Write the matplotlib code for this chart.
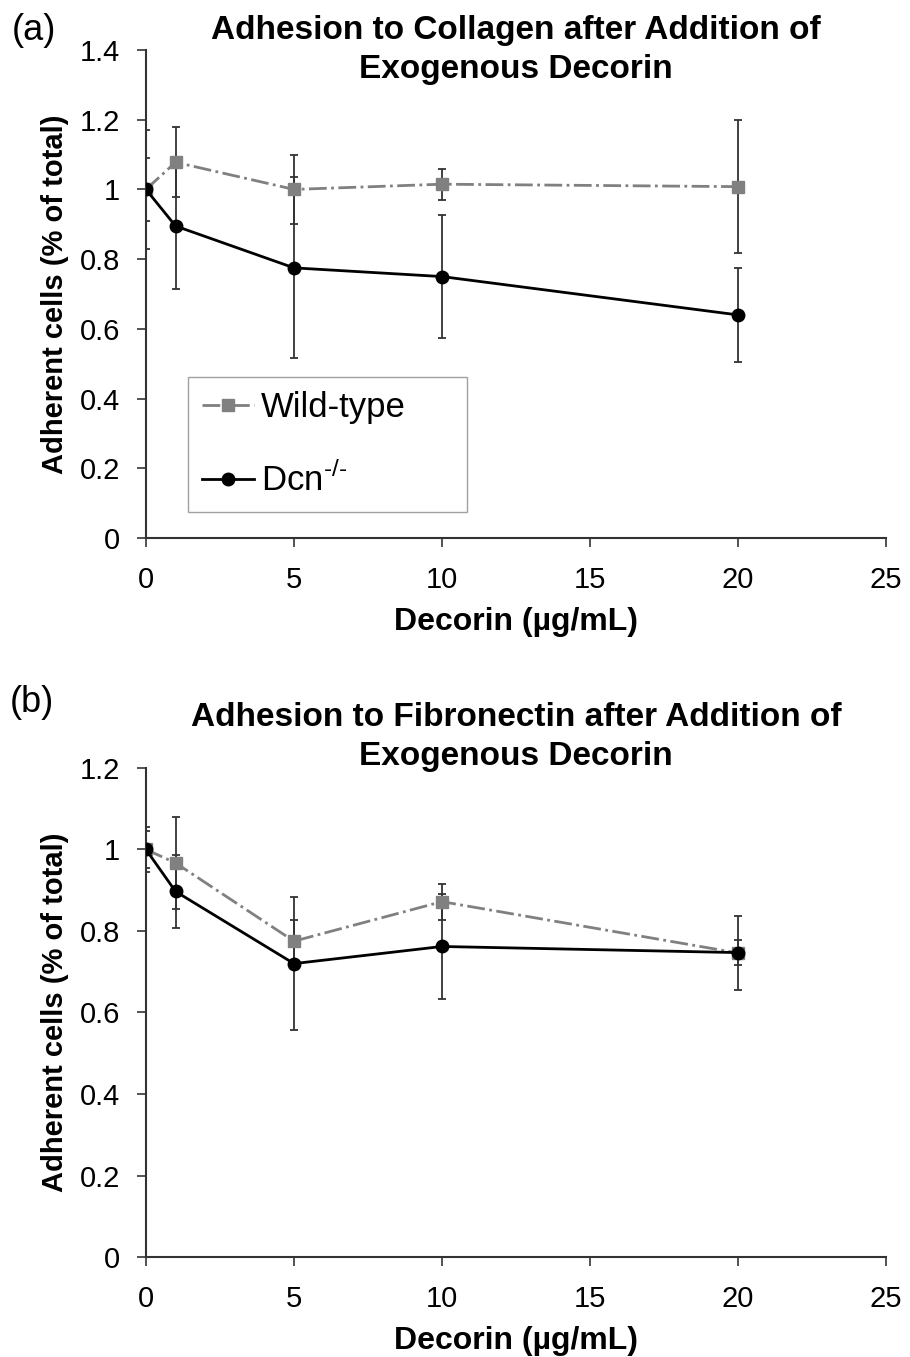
import matplotlib
matplotlib.use('Agg')
import matplotlib.pyplot as plt
import numpy as np

plt.rcParams['font.family'] = ['Liberation Sans', 'DejaVu Sans']
plt.rcParams['mathtext.fontset'] = 'custom'
plt.rcParams['mathtext.rm'] = 'Liberation Sans'

# decorin concentration (ug/mL)
decorin = [0, 1, 5, 10, 20]

# (a) collagen
col_wt = [1.0, 1.078, 1.0, 1.015, 1.008]
col_wt_err = [0.09, 0.10, 0.10, 0.045, 0.19]
col_dcn = [1.0, 0.895, 0.775, 0.75, 0.64]
col_dcn_err = [0.17, 0.18, 0.26, 0.176, 0.135]

# (b) fibronectin
fib_wt = [1.0, 0.967, 0.775, 0.872, 0.746]
fib_wt_err = [0.045, 0.112, 0.053, 0.044, 0.092]
fib_dcn = [1.0, 0.897, 0.72, 0.762, 0.747]
fib_dcn_err = [0.055, 0.09, 0.163, 0.13, 0.03]

titles = ['Adhesion to Collagen after Addition of\nExogenous Decorin',
          'Adhesion to Fibronectin after Addition of\nExogenous Decorin']
letters = ['(a)', '(b)']
ymaxes = [1.4, 1.2]

fig = plt.figure(figsize=(9.1, 13.57), dpi=100)
ax1 = fig.add_axes([0.1604, 0.60354, 0.8132, 0.35961])
ax2 = fig.add_axes([0.1604, 0.07369, 0.8132, 0.36036])

panels = [(ax1, col_wt, col_wt_err, col_dcn, col_dcn_err),
          (ax2, fib_wt, fib_wt_err, fib_dcn, fib_dcn_err)]

for i, (ax, wt, wt_err, dcn, dcn_err) in enumerate(panels):
    ax.errorbar(decorin, wt, yerr=wt_err, fmt='none', ecolor='#333333',
                elinewidth=1.3, capsize=2.7, capthick=1.3, zorder=2)
    ax.errorbar(decorin, dcn, yerr=dcn_err, fmt='none', ecolor='#333333',
                elinewidth=1.3, capsize=2.7, capthick=1.3, zorder=2)
    ax.plot(decorin, wt, color='#808080', ls='-.', lw=2, marker='s',
            markersize=8.5, label='Wild-type', zorder=3)
    ax.plot(decorin, dcn, color='black', ls='-', lw=2, marker='o',
            markersize=9, label='Dcn$^{\\text{-/-}}$', zorder=4)

    ax.set_xlim(0, 25)
    ax.set_ylim(0, ymaxes[i])
    ax.set_xticks([0, 5, 10, 15, 20, 25])
    ax.set_yticks(np.arange(0, ymaxes[i] + 0.01, 0.2))
    ax.set_yticklabels(['0'] + ['%g' % v for v in np.arange(0.2, ymaxes[i] + 0.01, 0.2)])
    ax.tick_params(labelsize=21, length=6.5, width=1.3, color='#444444', pad=12)
    ax.tick_params(axis='x', pad=14)
    for s in ['top', 'right']:
        ax.spines[s].set_visible(False)
    for s in ['left', 'bottom']:
        ax.spines[s].set_linewidth(1.5)
        ax.spines[s].set_color('#333333')
    ax.set_xlabel('Decorin (\u00b5g/mL)', fontsize=23, fontweight='bold', labelpad=9)
    ax.set_ylabel('Adherent cells (% of total)', fontsize=21, fontweight='bold', labelpad=8)

ax1.legend(loc='upper left', bbox_to_anchor=(0.0568, 0.330, 0.377, 0.0),
           mode='expand', alignment='center', fontsize=25, frameon=True,
           fancybox=False, edgecolor='#888888', handlelength=1.5,
           handletextpad=0.2, labelspacing=1.1, borderpad=0.4,
           borderaxespad=0)

fig.text(0.567, 1 - 50 / 1357, titles[0], ha='center', va='center',
         fontsize=24, fontweight='bold', linespacing=1.3)
fig.text(0.567, 1 - 737 / 1357, titles[1], ha='center', va='center',
         fontsize=24, fontweight='bold', linespacing=1.3)
fig.text(0.013, 1 - 31 / 1357, letters[0], ha='left', va='center', fontsize=26)
fig.text(0.011, 1 - 702 / 1357, letters[1], ha='left', va='center', fontsize=26)

fig.savefig('out.png', dpi=100)
